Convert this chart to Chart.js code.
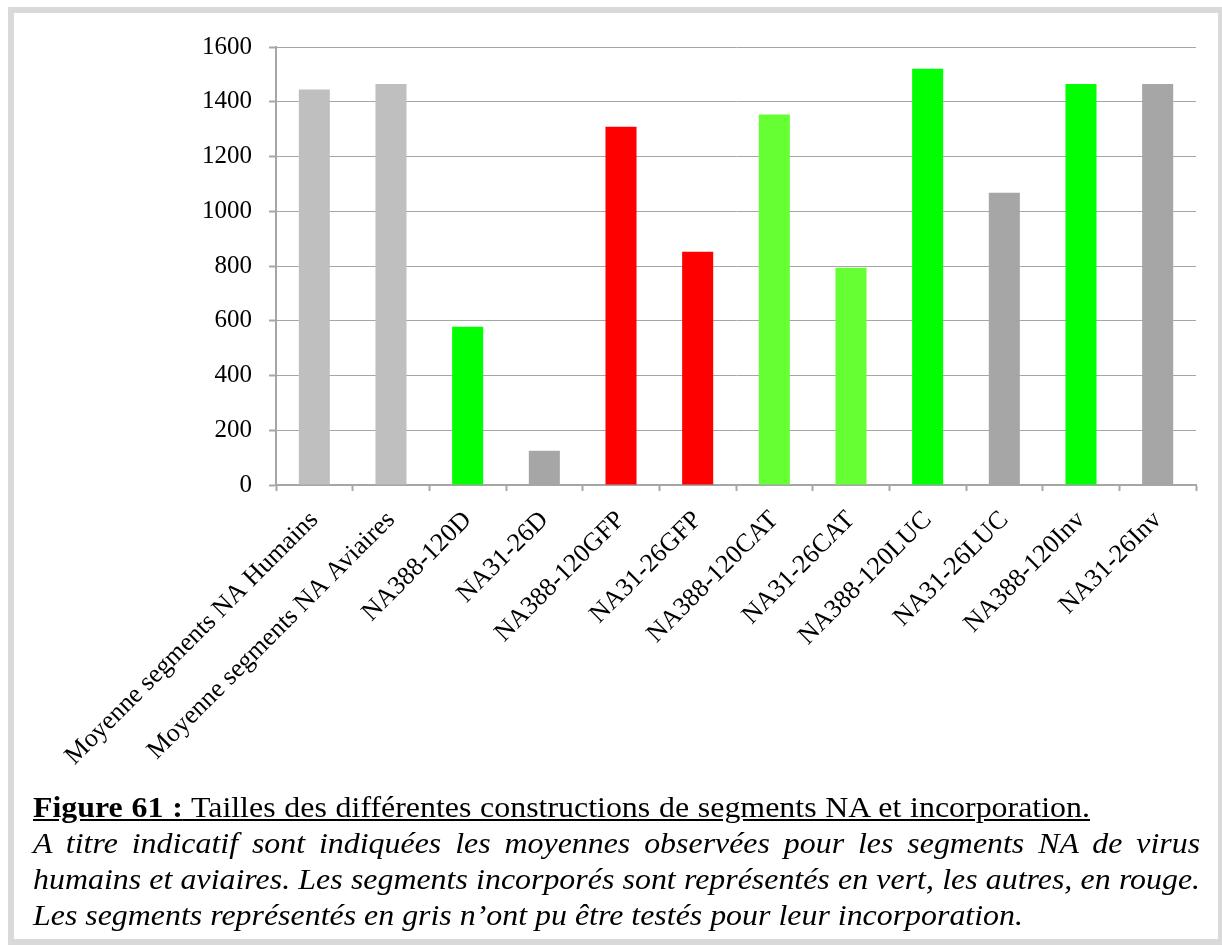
<!DOCTYPE html>
<html>
<head>
<meta charset="utf-8">
<script src="https://cdn.jsdelivr.net/npm/chart.js@4.4.1/dist/chart.umd.min.js"></script>
<style>
  html, body { margin: 0; padding: 0; background: #ffffff; }
  body { width: 1222px; height: 945px; position: relative; overflow: hidden; }
  #frame { position: absolute; left: 8px; top: 7px; width: 1204px; height: 926px; border: 6px solid #d9d9d9; }
  #chartBox { position: absolute; left: 0; top: 0; width: 1222px; height: 790px; }
  #caption { position: absolute; left: 33px; top: 789px; width: 1061px; transform: scaleX(1.1); transform-origin: 0 0;
             font-family: "Liberation Serif", "Times New Roman", serif; font-size: 29px; line-height: 36px; color: #000; }
  .l1 { word-spacing: 0.7px; }
  .j2 { text-align: justify; text-align-last: justify; }
  .it { font-style: italic; }
</style>
</head>
<body>
<div id="frame"></div>
<div id="chartBox"><canvas id="c"></canvas></div>
<div id="caption">
  <div class="l1"><u><b>Figure 61 :</b> Tailles des différentes constructions de segments NA et incorporation.</u></div>
  <div class="it j2">A titre indicatif sont indiquées les moyennes observées pour les segments NA de virus</div>
  <div class="it j2">humains et aviaires. Les segments incorporés sont représentés en vert, les autres, en rouge.</div>
  <div class="it">Les segments représentés en gris n’ont pu être testés pour leur incorporation.</div>
</div>
<script>
const categories = [
  "Moyenne segments NA Humains",
  "Moyenne segments NA Aviaires",
  "NA388-120D",
  "NA31-26D",
  "NA388-120GFP",
  "NA31-26GFP",
  "NA388-120CAT",
  "NA31-26CAT",
  "NA388-120LUC",
  "NA31-26LUC",
  "NA388-120Inv",
  "NA31-26Inv"
];
const sizes = [1445, 1465, 578, 125, 1309, 852, 1353, 794, 1521, 1068, 1465, 1465];
const barColors = ["#bfbfbf", "#bfbfbf", "#00ff00", "#a6a6a6", "#ff0000", "#ff0000",
                   "#66ff33", "#66ff33", "#00ff00", "#a6a6a6", "#00ff00", "#a6a6a6"];
const yTicks = [0, 200, 400, 600, 800, 1000, 1200, 1400, 1600];

const serif = "'Liberation Serif', 'Times New Roman', serif";
const axisGray = "#a6a6a6";

new Chart(document.getElementById("c"), {
  type: "bar",
  data: {
    labels: categories,
    datasets: [{
      data: sizes,
      backgroundColor: barColors,
      borderWidth: 0,
      categoryPercentage: 1.0,
      barPercentage: 0.405
    }]
  },
  options: {
    responsive: true,
    maintainAspectRatio: false,
    devicePixelRatio: 1,
    animation: false,
    layout: { padding: { left: 0, top: 47, right: 26, bottom: 0 } },
    plugins: { legend: { display: false }, tooltip: { enabled: false }, title: { display: false } },
    scales: {
      x: {
        grid: { display: true, drawOnChartArea: false, drawTicks: true, tickLength: 6, tickWidth: 2, tickColor: axisGray, color: axisGray, offset: true },
        border: { display: true, color: axisGray, width: 2 },
        ticks: {
          autoSkip: false, minRotation: 45, maxRotation: 45, padding: 14,
          color: "#000", font: { family: serif, size: 26 }
        },
        afterFit: (s) => { s.height = 305; }
      },
      y: {
        min: 0, max: 1600,
        afterBuildTicks: (s) => { s.ticks = yTicks.map(v => ({ value: v })); },
        grid: { color: axisGray, lineWidth: 1, drawTicks: true, tickLength: 7, tickWidth: 2, tickColor: axisGray },
        border: { display: true, color: axisGray, width: 2 },
        ticks: { padding: 17, color: "#000", font: { family: serif, size: 25 }, callback: (v) => String(v) },
        afterFit: (s) => { s.width = 276; }
      }
    }
  }
});
</script>
</body>
</html>
